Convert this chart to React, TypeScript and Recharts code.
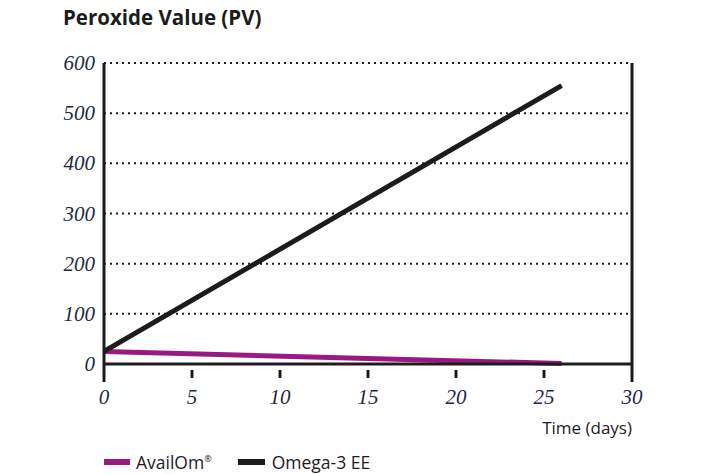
import { LineChart, Line, XAxis, YAxis, CartesianGrid, ReferenceLine } from "recharts";

const days = [0, 26];
const availOm = [25, 1];
const omega3 = [25, 555];
const xTicks = [0, 5, 10, 15, 20, 25, 30];
const yTicks = [0, 100, 200, 300, 400, 500, 600];

const data = days.map((d, i) => ({ day: d, availOm: availOm[i], omega3: omega3[i] }));

const INK = "#1c1c1c";
const PURPLE = "#981a80";
const LABEL = "#1d2a45";
const SERIF = "'Liberation Serif', 'DejaVu Serif', serif";
const SANS = "'Open Sans', 'Noto Sans', sans-serif";

const XTick = (props: any) => {
  const { x, payload, axisY } = props;
  const v = payload.value;
  const edge = v === 0 || v === 30;
  return (
    <g>
      {edge ? (
        <line x1={x} x2={x} y1={axisY} y2={axisY + 18} stroke={INK} strokeWidth={3} />
      ) : (
        <line x1={x} x2={x} y1={axisY + 6} y2={axisY + 14} stroke={INK} strokeWidth={3} />
      )}
      <text x={x} y={axisY + 40} textAnchor="middle" fontFamily={SERIF} fontStyle="italic" fontSize={21} fill={LABEL}>
        {v}
      </text>
    </g>
  );
};

const YTick = (props: any) => {
  const { x, y, payload } = props;
  return (
    <text x={x - 1} y={y + 7} textAnchor="end" fontFamily={SERIF} fontStyle="italic" fontSize={21} fill={LABEL}>
      {payload.value}
    </text>
  );
};

export default function App() {
  return (
    <div style={{ position: "absolute", left: 0, top: 0, width: 707, height: 474, background: "#fff" }}>
      <div style={{ position: "absolute", left: 63, top: 3, fontFamily: SANS, fontWeight: 700, fontSize: 20.5, color: INK }}>
        Peroxide Value (PV)
      </div>
      <LineChart width={707} height={474} data={data} margin={{ top: 63, right: 75, bottom: 0, left: 0 }}>
        <CartesianGrid vertical={false} stroke={INK} strokeWidth={2} strokeDasharray="2 4" horizontalValues={yTicks} />
        <XAxis
          dataKey="day"
          type="number"
          domain={[0, 30]}
          ticks={xTicks}
          axisLine={{ stroke: INK, strokeWidth: 3 }}
          tickLine={false}
          tick={<XTick axisY={364} />}
          height={110}
        />
        <YAxis
          type="number"
          domain={[0, 600]}
          ticks={yTicks}
          axisLine={{ stroke: INK, strokeWidth: 3 }}
          tickLine={false}
          tick={<YTick />}
          width={104}
        />
        <ReferenceLine x={30} stroke={INK} strokeWidth={3} />
        <Line dataKey="availOm" stroke={PURPLE} strokeWidth={5} dot={false} isAnimationActive={false} />
        <Line dataKey="omega3" stroke={INK} strokeWidth={5} dot={false} isAnimationActive={false} />
      </LineChart>
      <div style={{ position: "absolute", right: 75, top: 416, fontFamily: SANS, fontSize: 17, color: INK }}>
        Time (days)
      </div>
      <div style={{ position: "absolute", left: 104, top: 450, display: "flex", alignItems: "center", fontFamily: SANS, fontSize: 17.5, color: INK }}>
        <span style={{ display: "inline-block", width: 26, height: 6, background: PURPLE, marginRight: 6 }} />
        <span>
          AvailOm<sup style={{ fontSize: 9 }}>®</sup>
        </span>
        <span style={{ display: "inline-block", width: 27, height: 6, background: INK, marginLeft: 26, marginRight: 7 }} />
        <span>Omega-3 EE</span>
      </div>
    </div>
  );
}
